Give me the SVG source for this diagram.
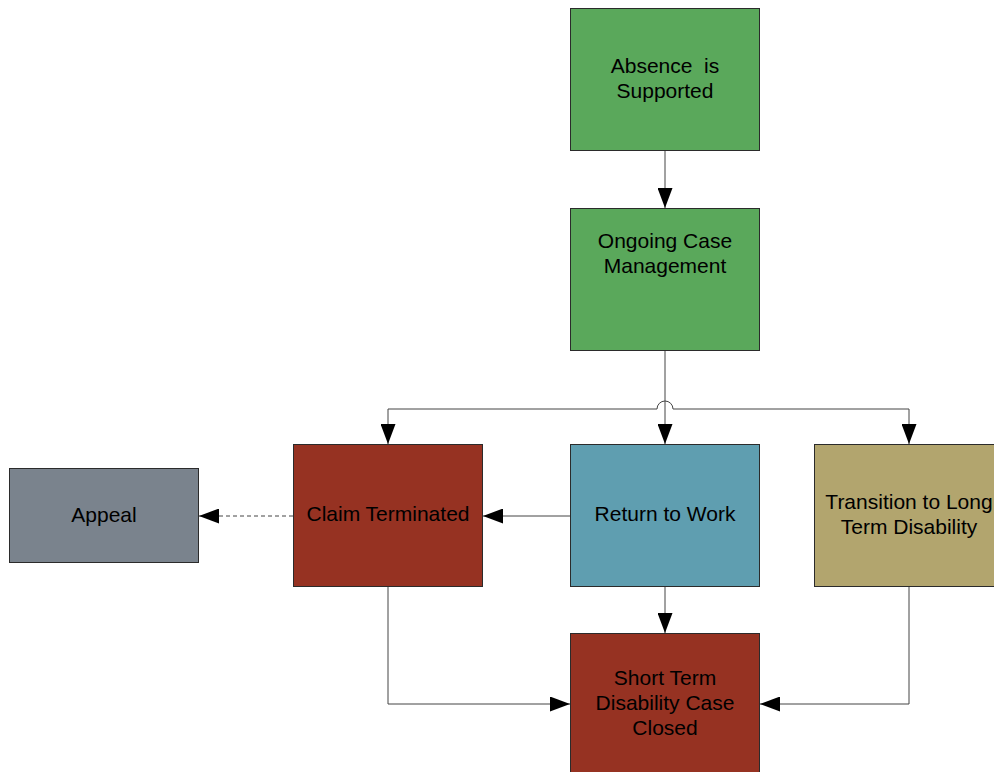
<svg xmlns="http://www.w3.org/2000/svg" width="994" height="772" viewBox="0 0 994 772">
  <style>
    .box { stroke: #2b2b2b; stroke-width: 1; }
    .green { fill: #5aa85b; }
    .red { fill: #963222; }
    .blue { fill: #5f9eb0; }
    .tan { fill: #b2a56e; }
    .grey { fill: #7a838d; }
    .lbl { font-family: "Liberation Sans", Arial, sans-serif; font-size: 21px; fill: #000; text-anchor: middle; white-space: pre; }
    .wire { fill: none; stroke: #444; stroke-width: 1; }
    .dash { stroke-dasharray: 4 3; }
  </style>
  <defs>
    <marker id="arrow" viewBox="0 0 20 15" refX="20" refY="7.5" markerWidth="20" markerHeight="15" markerUnits="userSpaceOnUse" orient="auto">
      <path d="M0,0 L20,7.5 L0,15 Z" fill="#000"/>
    </marker>
  </defs>

  <g id="connectors">
    <path class="wire" d="M665,150 V208" marker-end="url(#arrow)"/>
    <path class="wire" d="M665,350 V444" marker-end="url(#arrow)"/>
    <path class="wire" d="M657,409 H388 V444" marker-end="url(#arrow)"/>
    <path class="wire" d="M657,409 A8,8 0 0 1 673,409 H909 V444" marker-end="url(#arrow)"/>
    <path class="wire" d="M570,516 H483" marker-end="url(#arrow)"/>
    <path class="wire dash" d="M293,516 H199" marker-end="url(#arrow)"/>
    <path class="wire" d="M665,586 V633" marker-end="url(#arrow)"/>
    <path class="wire" d="M388,586 V704 H570" marker-end="url(#arrow)"/>
    <path class="wire" d="M909,586 V704 H760" marker-end="url(#arrow)"/>
  </g>

  <g id="absence-supported">
    <rect class="box green" x="570.5" y="8.5" width="189" height="142"/>
    <text class="lbl" x="665" y="73">Absence  is</text>
    <text class="lbl" x="665" y="98">Supported</text>
  </g>

  <g id="ongoing-case-management">
    <rect class="box green" x="570.5" y="208.5" width="189" height="142"/>
    <text class="lbl" x="665" y="248">Ongoing Case</text>
    <text class="lbl" x="665" y="273">Management</text>
  </g>

  <g id="appeal">
    <rect class="box grey" x="9.5" y="468.5" width="189" height="94"/>
    <text class="lbl" x="104" y="522">Appeal</text>
  </g>

  <g id="claim-terminated">
    <rect class="box red" x="293.5" y="444.5" width="189" height="142"/>
    <text class="lbl" x="388" y="521">Claim Terminated</text>
  </g>

  <g id="return-to-work">
    <rect class="box blue" x="570.5" y="444.5" width="189" height="142"/>
    <text class="lbl" x="665" y="521">Return to Work</text>
  </g>

  <g id="transition-ltd">
    <rect class="box tan" x="814.5" y="444.5" width="189" height="142"/>
    <text class="lbl" x="909" y="509">Transition to Long</text>
    <text class="lbl" x="909" y="534">Term Disability</text>
  </g>

  <g id="std-case-closed">
    <rect class="box red" x="570.5" y="633.5" width="189" height="142"/>
    <text class="lbl" x="665" y="685">Short Term</text>
    <text class="lbl" x="665" y="710">Disability Case</text>
    <text class="lbl" x="665" y="735">Closed</text>
  </g>
</svg>
